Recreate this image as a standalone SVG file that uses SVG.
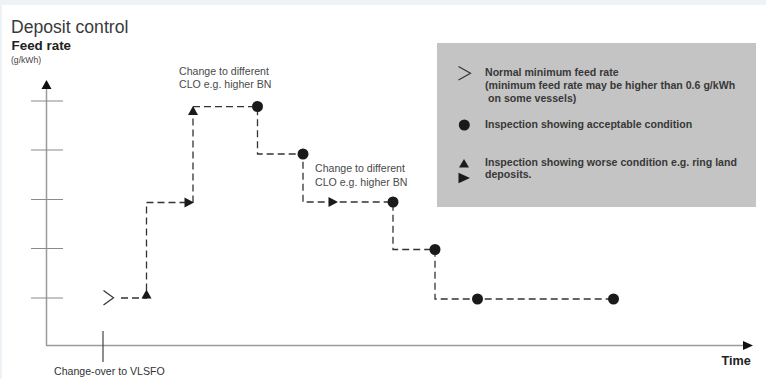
<svg xmlns="http://www.w3.org/2000/svg" width="766" height="379" viewBox="0 0 766 379">
  <style>
    text { font-family: "Liberation Sans", Arial, sans-serif; }
    .axis { stroke: #9a9a9a; stroke-width: 1.5; fill: none; }
    .tick { stroke: #8a8a8a; stroke-width: 1.2; }
    .dash { stroke: #333; stroke-width: 1.3; fill: none; stroke-dasharray: 7 4; }
    .mk { fill: #1a1a1a; }
    .chev { fill: none; stroke: #333; stroke-width: 1.2; }
    .lbl { font-size: 10.6px; fill: #4a4a4a; }
    .leg { font-size: 10.6px; font-weight: bold; fill: #383838; }
  </style>
  <rect x="0" y="0" width="766" height="379" fill="#ffffff"/>
  <rect x="0" y="0" width="766" height="5" fill="#eef3f7"/>
  <rect x="0" y="0" width="2" height="379" fill="#eef3f7"/>

  <g id="title">
    <text x="11" y="33" font-size="17.6" fill="#3a3a3a">Deposit control</text>
    <text x="11.5" y="49.5" font-size="13.4" font-weight="bold" fill="#222">Feed rate</text>
    <text x="11" y="63" font-size="8.6" fill="#444">(g/kWh)</text>
  </g>

  <g id="axes">
    <path class="axis" d="M46.5,345.5 V88"/>
    <path d="M46.5,80 L51.5,89 L41.5,89 Z" fill="#111"/>
    <path class="axis" d="M46,345.5 H744"/>
    <path d="M753,345.5 L743,341 L743,350 Z" fill="#111"/>
    <path class="tick" d="M31,101 H63 M31,150 H63 M31,199.5 H63 M31,248.5 H63 M31,298 H63"/>
    <path d="M103,331 V362" stroke="#444" stroke-width="1.2"/>
    <text x="54" y="375" font-size="10.6" fill="#333">Change-over to VLSFO</text>
    <text x="721.5" y="364.5" font-size="12.6" font-weight="bold" fill="#222">Time</text>
  </g>

  <g id="connectors">
    <path class="dash" d="M121,298 H146.5 V202.5 H186"/>
    <path class="dash" d="M193,202.5 V113 M193,106.7 H257.5 V154 H303 V202 H393 V249.5 H435 V299 H613"/>
  </g>

  <g id="n-start"><path class="chev" d="M103.5,290.5 L113.5,297.8 L103.5,305"/></g>
  <g id="n-tri1"><path class="mk" d="M146.5,289.5 L151.5,298.5 L141.5,298.5 Z"/></g>
  <g id="n-arr1"><path class="mk" d="M194,202.5 L184.5,197.5 L184.5,207.5 Z"/></g>
  <g id="n-tri2"><path class="mk" d="M193,106 L198,115 L188,115 Z"/></g>
  <g id="n-c1"><circle class="mk" cx="257.5" cy="106.5" r="5.5"/></g>
  <g id="n-c2"><circle class="mk" cx="303" cy="154" r="5.5"/></g>
  <g id="n-arr2"><path class="mk" d="M338,202 L328.5,197 L328.5,207 Z"/></g>
  <g id="n-c3"><circle class="mk" cx="393" cy="202" r="5.5"/></g>
  <g id="n-c4"><circle class="mk" cx="435" cy="249.5" r="5.5"/></g>
  <g id="n-c5"><circle class="mk" cx="477.5" cy="299" r="5.5"/></g>
  <g id="n-c6"><circle class="mk" cx="613.5" cy="299" r="5.5"/></g>

  <g id="label1">
    <text class="lbl" x="179" y="75">Change to different</text>
    <text class="lbl" x="179" y="88">CLO e.g. higher BN</text>
  </g>
  <g id="label2">
    <text class="lbl" x="315" y="171.5">Change to different</text>
    <text class="lbl" x="315" y="185.5">CLO e.g. higher BN</text>
  </g>

  <g id="legend">
    <rect x="437" y="43" width="319" height="164" fill="#c4c4c4"/>
    <path class="chev" d="M458.5,66.5 L470.5,73.3 L458.5,80"/>
    <text class="leg" x="485" y="76">Normal minimum feed rate</text>
    <text class="leg" x="485" y="88.5">(minimum feed rate may be higher than 0.6 g/kWh</text>
    <text class="leg" x="488" y="101.5">on some vessels)</text>
    <circle class="mk" cx="464.3" cy="125" r="5.5"/>
    <text class="leg" x="485" y="128">Inspection showing acceptable condition</text>
    <path class="mk" d="M464,159 L469,167.5 L459,167.5 Z"/>
    <path class="mk" d="M470,178 L458.5,172.8 L458.5,183.2 Z"/>
    <text class="leg" x="485" y="166">Inspection showing worse condition e.g. ring land</text>
    <text class="leg" x="485" y="178">deposits.</text>
  </g>
</svg>
